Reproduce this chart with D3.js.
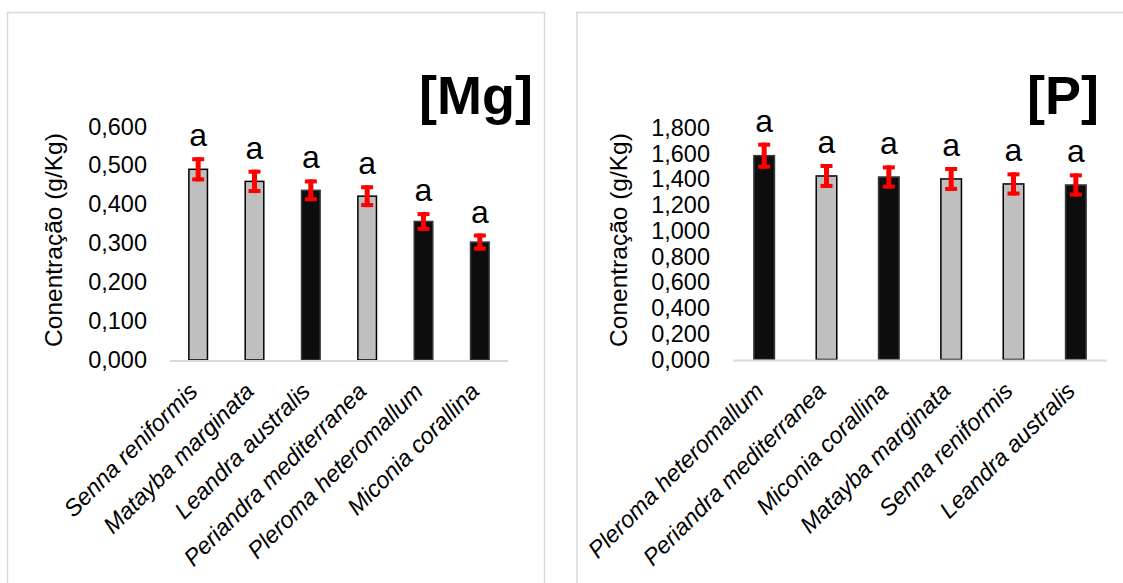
<!DOCTYPE html>
<html>
<head>
<meta charset="utf-8">
<script src="https://cdn.jsdelivr.net/npm/d3@7"></script>
<style>
    body { margin: 0; background: #fff; }
    svg { display: block; font-family: "Liberation Sans", Arial, sans-serif; }
</style>
</head>
<body>
<svg id="chart" width="1123" height="583"></svg>
<script>
// species in the order each panel shows them
var mgSpecies = ['Senna reniformis', 'Matayba marginata', 'Leandra australis', 'Periandra mediterranea', 'Pleroma heteromallum', 'Miconia corallina'];
var mgValues = [0.490, 0.459, 0.436, 0.421, 0.356, 0.303];
var mgErrors = [0.031, 0.030, 0.028, 0.028, 0.024, 0.022];
var mgLetters = ['a', 'a', 'a', 'a', 'a', 'a'];
var mgTicks = [0, 0.1, 0.2, 0.3, 0.4, 0.5, 0.6];

var pSpecies = ['Pleroma heteromallum', 'Periandra mediterranea', 'Miconia corallina', 'Matayba marginata', 'Senna reniformis', 'Leandra australis'];
var pValues = [1.585, 1.427, 1.419, 1.404, 1.365, 1.357];
var pErrors = [0.101, 0.093, 0.090, 0.093, 0.090, 0.090];
var pLetters = ['a', 'a', 'a', 'a', 'a', 'a'];
var pTicks = [0, 0.2, 0.4, 0.6, 0.8, 1.0, 1.2, 1.4, 1.6, 1.8];

// species drawn with black bars, the rest are grey
var darkSpecies = ['Leandra australis', 'Pleroma heteromallum', 'Miconia corallina'];

var yTitle = 'Conentração (g/Kg)';

var ptBR = d3.formatLocale({ decimal: ',', thousands: '.', grouping: [3], currency: ['R$', ''] });
var fmt = ptBR.format('.3f');

var svg = d3.select('#chart');

function drawPanel(cfg) {
    var data = cfg.species.map(function(s, i) {
        return { name: s, value: cfg.values[i], err: cfg.errors[i], letter: cfg.letters[i] };
    });

    // frame round the panel
    svg.append('rect')
        .attr('x', cfg.frame[0]).attr('y', cfg.frame[1])
        .attr('width', cfg.frame[2]).attr('height', cfg.frame[3])
        .attr('fill', 'none').attr('stroke', '#d9d9d9').attr('stroke-width', 1.5);

    var x = d3.scaleBand().domain(cfg.species).range([cfg.x0, cfg.x1]).paddingInner(0.67).paddingOuter(0.335);
    var y = d3.scaleLinear().domain([0, cfg.max]).range([cfg.base, cfg.top]);

    var yAxis = d3.axisLeft(y).tickValues(cfg.ticks).tickFormat(fmt).tickSize(0).tickPadding(0);
    var ga = svg.append('g').attr('transform', 'translate(' + cfg.tickX + ',0)').call(yAxis);
    ga.select('.domain').remove();
    ga.selectAll('text').attr('font-size', 23.5).attr('fill', '#000').attr('font-family', null);

    svg.append('text')
        .attr('transform', 'translate(' + cfg.titleX + ',' + 240 + ') rotate(-90)')
        .attr('text-anchor', 'middle')
        .attr('font-size', 24.5)
        .text(yTitle);

    // bars
    svg.append('g').selectAll('rect').data(data).join('rect')
        .attr('x', function(d) { return x(d.name); })
        .attr('y', function(d) { return y(d.value); })
        .attr('width', x.bandwidth())
        .attr('height', function(d) { return y(0) - y(d.value); })
        .attr('fill', function(d) { return darkSpecies.indexOf(d.name) >= 0 ? '#0d0d0d' : '#bfbfbf'; })
        .attr('stroke', function(d) { return darkSpecies.indexOf(d.name) >= 0 ? '#3a3a3a' : '#000'; })
        .attr('stroke-width', 1.5);

    // base line
    svg.append('line')
        .attr('x1', cfg.x0).attr('x2', cfg.x1)
        .attr('y1', y(0) + 1).attr('y2', y(0) + 1)
        .attr('stroke', '#d9d9d9').attr('stroke-width', 2);

    // error bars
    var eb = svg.append('g').selectAll('g').data(data).join('g')
        .attr('transform', function(d) { return 'translate(' + (x(d.name) + x.bandwidth() / 2) + ',0)'; });
    eb.append('line')
        .attr('y1', function(d) { return y(d.value + d.err); })
        .attr('y2', function(d) { return y(d.value - d.err); })
        .attr('stroke', '#ff0000').attr('stroke-width', 5);
    eb.append('line')
        .attr('x1', -6).attr('x2', 6)
        .attr('y1', function(d) { return y(d.value + d.err) + 2; })
        .attr('y2', function(d) { return y(d.value + d.err) + 2; })
        .attr('stroke', '#ff0000').attr('stroke-width', 4);
    eb.append('line')
        .attr('x1', -6).attr('x2', 6)
        .attr('y1', function(d) { return y(d.value - d.err) - 2; })
        .attr('y2', function(d) { return y(d.value - d.err) - 2; })
        .attr('stroke', '#ff0000').attr('stroke-width', 4);

    // letters
    svg.append('g').selectAll('text').data(data).join('text')
        .attr('x', function(d) { return x(d.name) + x.bandwidth() / 2; })
        .attr('y', function(d) { return y(d.value + d.err) - 11; })
        .attr('text-anchor', 'middle')
        .attr('font-size', 32)
        .text(function(d) { return d.letter; });

    // category labels
    svg.append('g').selectAll('text').data(data).join('text')
        .attr('transform', function(d) {
            return 'translate(' + (x(d.name) + x.bandwidth() / 2 - 5) + ',' + (cfg.base + 27) + ') rotate(-45)';
        })
        .attr('text-anchor', 'end')
        .attr('dy', '0.35em')
        .attr('font-size', 23.5)
        .attr('font-style', 'italic')
        .text(function(d) { return d.name; });

    // panel title
    svg.append('text')
        .attr('x', cfg.labelX).attr('y', 114)
        .attr('text-anchor', 'end')
        .attr('font-size', 54)
        .attr('font-weight', 'bold')
        .text(cfg.label);
}

drawPanel({
    species: mgSpecies, values: mgValues, errors: mgErrors, letters: mgLetters, ticks: mgTicks,
    max: 0.6, label: '[Mg]',
    frame: [7.5, 12.5, 537, 600],
    x0: 170, x1: 508, base: 360, top: 126.5,
    tickX: 147, titleX: 62, labelX: 533
});

drawPanel({
    species: pSpecies, values: pValues, errors: pErrors, letters: pLetters, ticks: pTicks,
    max: 1.8, label: '[P]',
    frame: [577, 12.5, 600, 600],
    x0: 733, x1: 1107, base: 359.5, top: 128,
    tickX: 710, titleX: 627, labelX: 1099
});
</script>
</body>
</html>
